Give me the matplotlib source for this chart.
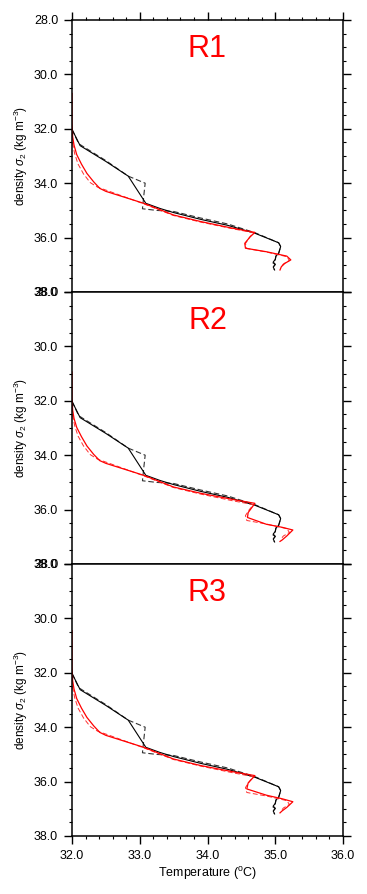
import matplotlib
matplotlib.use("Agg")
import matplotlib.pyplot as plt
from matplotlib.ticker import MultipleLocator, FormatStrFormatter

plt.rcParams['font.family'] = ['Liberation Sans', 'DejaVu Sans']
plt.rcParams['mathtext.fontset'] = 'custom'
plt.rcParams['mathtext.rm'] = 'Liberation Sans'
plt.rcParams['mathtext.it'] = 'Liberation Sans:italic'

regions = ["R1", "R2", "R3"]

# black solid / dashed profiles (same in every panel)
obs_t = [32.00, 32.12, 32.50, 32.83, 33.09, 33.30, 33.50, 33.90, 34.30, 34.70,
         35.05, 35.08, 35.05, 35.01, 35.00, 34.97, 35.00, 34.97, 34.99]
obs_d = [32.02, 32.62, 33.20, 33.74, 34.74, 34.93, 35.08, 35.33, 35.55, 35.84,
         36.19, 36.33, 36.58, 36.68, 36.80, 36.90, 36.98, 37.08, 37.19]
obs2_t = [32.00, 32.10, 32.50, 32.83, 33.08, 33.06, 33.04, 33.25, 33.50, 33.90,
          34.30, 34.70, 35.05, 35.08, 35.05, 35.01, 35.00, 34.96, 35.00, 34.97, 34.99]
obs2_d = [32.02, 32.55, 33.17, 33.74, 34.00, 34.45, 34.94, 35.00, 35.04, 35.28,
          35.50, 35.82, 36.19, 36.33, 36.58, 36.68, 36.82, 36.92, 36.99, 37.10, 37.19]

# red solid profiles, one per region
r1_t = [32.00, 32.00, 32.01, 32.03, 32.07, 32.14, 32.22, 32.32, 32.41, 32.50, 33.06,
        33.50, 33.90, 34.38, 34.70, 34.63, 34.55, 34.56, 34.87, 35.17, 35.23, 35.14, 35.09, 35.07]
r1_d = [30.70, 31.80, 32.30, 32.60, 32.95, 33.30, 33.64, 33.95, 34.19, 34.30, 34.74,
        35.17, 35.41, 35.66, 35.81, 35.97, 36.21, 36.39, 36.52, 36.68, 36.82, 36.95, 37.07, 37.19]
r2_t = [32.00, 32.00, 32.01, 32.03, 32.07, 32.14, 32.22, 32.32, 32.41, 32.50, 33.06,
        33.50, 33.90, 34.38, 34.70, 34.60, 34.59, 34.87, 35.10, 35.26, 35.17, 35.10, 35.07]
r2_d = [30.94, 31.90, 32.35, 32.65, 32.98, 33.32, 33.66, 33.97, 34.20, 34.30, 34.74,
        35.17, 35.40, 35.63, 35.77, 36.11, 36.29, 36.54, 36.65, 36.75, 36.97, 37.12, 37.17]
r3_t = [32.00, 32.00, 32.01, 32.03, 32.07, 32.14, 32.22, 32.32, 32.41, 32.50, 33.06,
        33.50, 33.90, 34.38, 34.70, 34.60, 34.58, 34.87, 35.10, 35.26, 35.17, 35.10, 35.07]
r3_d = [30.45, 31.80, 32.30, 32.60, 32.95, 33.30, 33.64, 33.95, 34.19, 34.30, 34.74,
        35.17, 35.41, 35.64, 35.78, 36.05, 36.27, 36.50, 36.63, 36.74, 36.95, 37.08, 37.15]

# red dashed profile (close to the solid one)
mod2_t = [32.00, 32.01, 32.04, 32.09, 32.17, 32.27, 32.38, 32.52, 33.06, 33.50,
          33.90, 34.38, 34.68, 34.62, 34.56, 34.58, 34.87, 35.17, 35.21, 35.12, 35.08]
mod2_d = [32.25, 32.55, 32.92, 33.30, 33.66, 33.98, 34.15, 34.27, 34.76, 35.19,
          35.43, 35.68, 35.82, 35.99, 36.22, 36.40, 36.53, 36.70, 36.84, 36.97, 37.10]

reds = [(r1_t, r1_d), (r2_t, r2_d), (r3_t, r3_d)]

fig = plt.figure(figsize=(3.67, 8.94), dpi=100)
left, width = 72 / 367, 271 / 367
h = 272 / 894
bottom0 = 1 - 836 / 894

for i, name in enumerate(regions):
    ax = fig.add_axes([left, bottom0 + (2 - i) * h, width, h])
    ax.plot(obs2_t, obs2_d, color="#333333", lw=0.8, dashes=(5, 2.5))
    ax.plot(obs_t, obs_d, color="black", lw=0.8)
    ax.plot(mod2_t, mod2_d, color="#ff3030", lw=0.7, dashes=(5, 2.5))
    ax.plot(reds[i][0], reds[i][1], color="red", lw=0.9)
    ax.set_xlim(32, 36)
    ax.set_ylim(38, 28)
    ax.text(34, 29.05, name, color="red", fontsize=22, ha="center", va="center")
    ax.yaxis.set_major_locator(MultipleLocator(2))
    ax.yaxis.set_minor_locator(MultipleLocator(0.5))
    ax.xaxis.set_major_locator(MultipleLocator(1))
    ax.xaxis.set_minor_locator(MultipleLocator(0.2))
    ax.yaxis.set_major_formatter(FormatStrFormatter("%.1f"))
    ax.xaxis.set_major_formatter(FormatStrFormatter("%.1f"))
    ax.tick_params(which="both", direction="out", left=True, right=True,
                   top=(i == 0), bottom=(i == 2), labelbottom=(i == 2),
                   labelsize=9, width=1.0, pad=4)
    ax.tick_params(which="major", length=6)
    ax.tick_params(which="minor", length=2.2, width=0.8)
    for s in ax.spines.values():
        s.set_linewidth(1.1)
    ax.set_ylabel(r"density $\sigma_2$ (kg m$^{-3}$)", fontsize=8.5)
    ax.yaxis.set_label_coords(-0.155, 0.5)
    if i == 2:
        ax.set_xlabel(r"Temperature ($^{\mathrm{o}}$C)", fontsize=9, labelpad=2)

fig.savefig("out.png", dpi=100)
